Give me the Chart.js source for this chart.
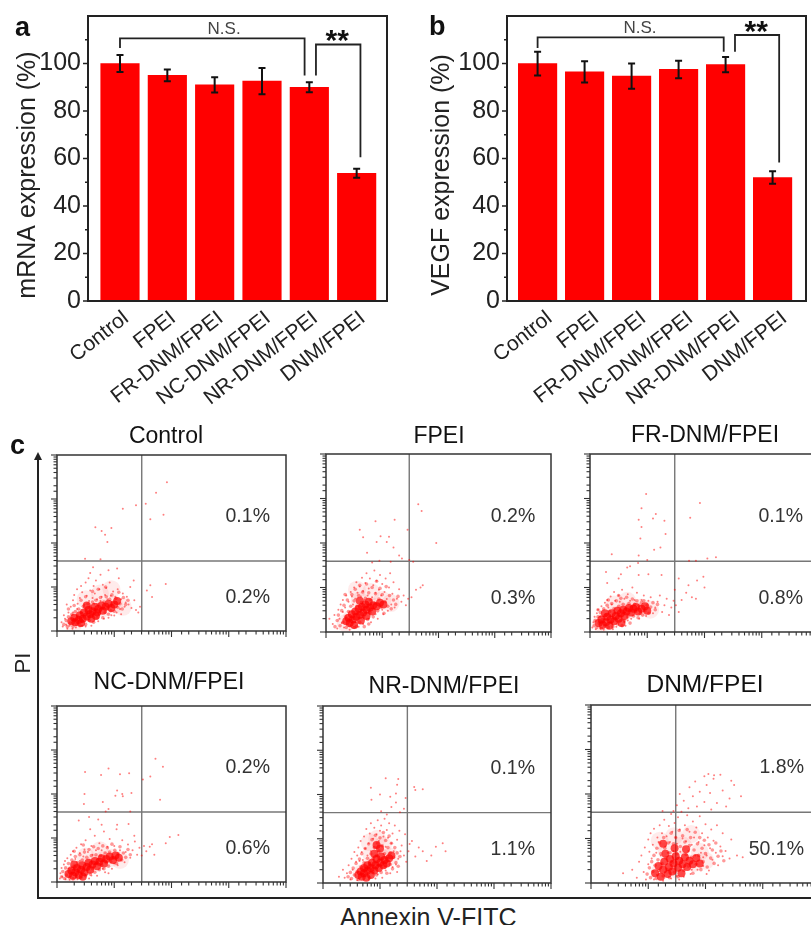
<!DOCTYPE html>
<html>
<head>
<meta charset="utf-8">
<title>Expression and apoptosis</title>
<script src="https://cdn.jsdelivr.net/npm/chart.js@4"></script>
<style>
  html, body { margin: 0; padding: 0; background: #fff; }
  body { width: 811px; height: 925px; overflow: hidden; position: relative; font-family: "Liberation Sans", Arial, sans-serif; filter: blur(0.5px); }
  .box { position: absolute; }
  .txt { position: absolute; color: #222; white-space: nowrap; line-height: 1; }
  .line { position: absolute; background: #222; }
</style>
</head>
<body>
<div class="box" style="left:0;top:0;width:405px;height:420px"><canvas id="barA"></canvas></div>
<div class="box" style="left:410px;top:0;width:401px;height:420px"><canvas id="barB"></canvas></div>
<div class="box" id="panels"></div>

<div class="txt" style="left:15px;top:14px;font-size:27px;font-weight:bold;color:#111">a</div>
<div class="txt" style="left:429px;top:13px;font-size:27px;font-weight:bold;color:#111">b</div>
<div class="txt" style="left:10px;top:432px;font-size:27px;font-weight:bold;color:#111">c</div>
<div class="line" style="left:37px;top:458px;width:2px;height:441px"></div>
<div class="line" style="left:37px;top:897px;width:774px;height:2px"></div>
<div class="box" style="left:34px;top:452px;width:0;height:0;border-left:4px solid transparent;border-right:4px solid transparent;border-bottom:8px solid #222"></div>
<div class="txt" style="left:23px;top:663px;font-size:22px;transform:translate(-50%,-50%) rotate(-90deg)">PI</div>
<div class="txt" style="left:340px;top:905px;font-size:25px">Annexin V-FITC</div>

<script>
const categories = ['Control', 'FPEI', 'FR-DNM/FPEI', 'NC-DNM/FPEI', 'NR-DNM/FPEI', 'DNM/FPEI'];
const mrnaValues = [100, 95, 91, 92.6, 90, 53.8];
const mrnaErrors = [3.6, 2.5, 3.2, 5.5, 2.1, 1.9];
const vegfValues = [100, 96.5, 94.7, 97.5, 99.5, 52];
const vegfErrors = [5, 4.5, 5.3, 3.7, 3.2, 2.6];

// brackets, in axis units
const mrnaNsX = [1, 1, 4.9, 4.9];
const mrnaNsY = [106.5, 110.6, 110.6, 95];
const mrnaStarX = [5.14, 5.14, 6.08, 6.08];
const mrnaStarY = [95, 108, 108, 60.5];
const vegfNsX = [1, 1, 4.96, 4.96];
const vegfNsY = [106.5, 111, 111, 105];
const vegfStarX = [5.2, 5.2, 6.14, 6.14];
const vegfStarY = [105, 112, 112, 58.3];

// gate position and % labels of the flow plots, in decades
const gateX = 1.48;
const gateY = 1.59;
const percentUpper = ['0.1%', '0.2%', '0.1%', '0.2%', '0.1%', '1.8%'];
const percentLower = ['0.2%', '0.3%', '0.8%', '0.6%', '1.1%', '50.1%'];
const panelTitles = ['Control', 'FPEI', 'FR-DNM/FPEI', 'NC-DNM/FPEI', 'NR-DNM/FPEI', 'DNM/FPEI'];

// flow cytometry events, [annexin, PI] in decades. halo/body/core are the dense middle of each cloud
const controlHalo = [[.4,.3],[.6,.42],[.8,.52],[1,.6],[.5,.72],[.75,.85],[.3,.18],[1.15,.55],[.95,.95]];
const controlBody = [[.12,.15],[.16,.24],[.18,.1],[.2,.32],[.23,.18],[.26,.38],[.28,.1],[.3,.25],[.32,.44],[.34,.15],[.36,.34],[.38,.5],[.4,.12],[.42,.42],[.44,.22],[.46,.56],[.48,.32],[.5,.15],[.52,.46],[.54,.62],[.56,.24],[.58,.55],[.6,.36],[.62,.66],[.64,.2],[.66,.48],[.68,.7],[.7,.3],[.72,.6],[.74,.4],[.76,.76],[.78,.5],[.8,.3],[.82,.66],[.84,.42],[.86,.78],[.88,.52],[.9,.38],[.92,.72],[.94,.46],[.96,.82],[.98,.62],[1,.45],[1.03,.74],[1.06,.54],[1.08,.88],[1.1,.62],[1.14,.5],[1.16,.76],[1.2,.6],[1.24,.7],[.2,.5],[.3,.58],[.42,.7],[.5,.78],[.62,.9],[.72,.95],[.85,1]];
const controlCore = [[.25,.22],[.32,.2],[.3,.3],[.38,.25],[.4,.36],[.45,.28],[.47,.42],[.52,.33],[.55,.48],[.58,.38],[.62,.45],[.6,.28],[.66,.55],[.7,.42],[.72,.5],[.78,.58],[.8,.46],[.85,.55],[.9,.62],[.95,.52],[1,.6],[.52,.58],[.42,.18],[.68,.34],[1.05,.68]];
const controlDots = [[.1,.1],[.14,.28],[.08,.2],[.18,.05],[.2,.42],[.12,.36],[.24,.55],[.17,.6],[.28,.7],[.22,.12],[.33,.08],[.36,.62],[.3,.82],[.4,.75],[.35,.95],[.44,.88],[.48,.6],[.42,1.02],[.52,.8],[.5,1.1],[.56,.68],[.58,.92],[.62,.75],[.55,1.2],[.66,.85],[.64,1.02],[.7,.72],[.68,1.15],[.74,.95],[.72,.22],[.6,.12],[.5,.1],[.78,.78],[.8,1.05],[.76,1.28],[.84,.82],[.86,.98],[.9,.3],[.82,.28],[.94,.8],[.92,1.1],[.98,.9],[1,.35],[1.02,.78],[1.06,.95],[1.04,.42],[1.1,.5],[1.12,.72],[1.15,.85],[1.18,.55],[1.2,.65],[1.08,1.2],[1.22,.78],[1.25,.6],[1.28,1],[1.3,.52],[1.35,.7],[1.38,.48],[1.34,1.15],[1.42,.42],[.49,1.64],[.76,1.63],[.88,2.02],[.78,2.27],[.84,2.19],[.67,2.36],[.95,2.34],[1.15,2.78],[1.38,2.86],[1.55,2.89],[1.63,2.54],[1.86,2.64],[1.73,3.14],[1.92,3.38],[1.9,1.07],[1.63,1.04],[1.57,.92],[1.66,.77],[1.45,.55],[.63,1.45],[.9,1.38],[1.05,1.42],[.58,1.32],[.28,.42],[.35,.5],[.16,.14],[.27,.05],[.44,.12],[.65,.62],[.76,.68],[.88,.72],[1.12,.38],[.95,.36]];

const fpeiHalo = [[.45,.3],[.65,.45],[.82,.58],[.6,.7],[.8,.9],[1,.72],[.35,.2],[.55,.95],[1.15,.65]];
const fpeiBody = [[.16,.12],[.2,.26],[.22,.38],[.25,.14],[.28,.48],[.3,.22],[.32,.6],[.35,.34],[.36,.1],[.38,.72],[.4,.46],[.42,.14],[.44,.58],[.46,.84],[.48,.3],[.5,.7],[.52,.96],[.54,.12],[.55,.58],[.58,.82],[.6,.22],[.6,1.05],[.63,.66],[.65,.9],[.67,.34],[.7,.76],[.72,1.08],[.74,.28],[.76,.88],[.78,.44],[.8,.72],[.82,1],[.84,.34],[.86,.64],[.88,.86],[.9,1.14],[.92,.48],[.94,.74],[.96,.98],[.98,.56],[1,.84],[1.03,.42],[1.05,.68],[1.07,1.02],[1.1,.58],[1.13,.82],[1.16,.52],[1.2,.72],[1.24,.62],[1.28,.8],[.34,.84],[.5,.1],[.68,.12],[.76,.18]];
const fpeiCore = [[.36,.24],[.42,.2],[.4,.32],[.48,.28],[.46,.4],[.54,.34],[.52,.46],[.6,.38],[.58,.52],[.66,.44],[.64,.56],[.72,.5],[.7,.62],[.78,.55],[.76,.68],[.84,.6],[.9,.58],[.96,.66],[.6,.7],[.5,.16],[.62,.26],[.72,.36],[.82,.46],[1.02,.62]];
const fpeiDots = [[.06,.3],[.12,.18],[.15,.38],[.2,.08],[.22,.5],[.26,.62],[.24,.3],[.3,.72],[.32,.1],[.36,.82],[.34,.55],[.4,.68],[.44,.9],[.42,.05],[.46,.8],[.5,1],[.48,.62],[.52,.75],[.54,1.12],[.56,.88],[.58,.12],[.6,1.02],[.62,.8],[.64,1.22],[.66,.92],[.68,.72],[.7,1.1],[.72,1.32],[.74,.82],[.76,.98],[.78,1.2],[.8,.22],[.82,.78],[.84,1.05],[.86,1.38],[.88,.88],[.9,1.15],[.92,.3],[.94,.95],[.96,1.28],[.98,.82],[1,1.08],[1.02,.4],[1.04,.9],[1.06,1.2],[1.08,.74],[1.1,.48],[1.12,1],[1.14,1.32],[1.16,.62],[1.18,.86],[1.2,1.12],[1.22,.55],[1.26,.75],[1.3,.96],[1.34,.68],[1.38,.82],[1.42,.6],[1.46,.75],[1.52,.78],[1.6,.95],[1.68,1],[1.72,1.05],[.82,1.56],[.95,1.6],[1.15,1.58],[1.3,1.72],[1.35,1.65],[.73,1.78],[.9,2.02],[.66,2.13],[.6,2.3],[.88,2.49],[.97,2.15],[1.12,2.14],[1.08,2.02],[1.2,1.9],[1.22,2.52],[1.45,2.3],[1.48,1.62],[1.55,1.58],[1.64,2.87],[1.7,2.72],[1.96,2],[.3,.45],[.28,.2],[.52,.22],[.66,.18],[.76,.3],[.88,.4],[1,.5]];

const frHalo = [[.3,.3],[.45,.38],[.6,.45],[.75,.52],[.9,.55],[.2,.2],[.42,.62],[.65,.7],[1.05,.5]];
const frBody = [[.07,.14],[.09,.26],[.12,.1],[.14,.34],[.16,.2],[.18,.44],[.2,.08],[.22,.28],[.24,.52],[.26,.14],[.28,.38],[.3,.6],[.32,.1],[.34,.46],[.36,.22],[.38,.64],[.4,.12],[.42,.52],[.44,.3],[.46,.7],[.48,.18],[.5,.58],[.52,.38],[.54,.76],[.56,.14],[.58,.62],[.6,.26],[.62,.52],[.64,.78],[.66,.34],[.68,.64],[.7,.2],[.72,.56],[.74,.74],[.76,.36],[.78,.62],[.8,.46],[.82,.7],[.84,.32],[.86,.6],[.88,.42],[.9,.66],[.92,.38],[.94,.7],[.96,.48],[1,.6],[1.03,.42],[1.06,.56],[1.1,.66],[1.14,.5],[1.18,.62],[.14,.5],[.32,.72],[.5,.82]];
const frCore = [[.15,.2],[.2,.28],[.22,.16],[.28,.22],[.3,.34],[.34,.14],[.36,.28],[.38,.42],[.42,.24],[.45,.36],[.48,.48],[.5,.3],[.54,.42],[.58,.5],[.6,.36],[.64,.46],[.68,.54],[.72,.44],[.76,.52],[.8,.56],[.84,.46],[.9,.52],[.96,.58],[.55,.2],[.26,.42],[1,.48]];
const frDots = [[.04,.1],[.06,.22],[.08,.34],[.1,.06],[.12,.42],[.14,.5],[.18,.08],[.2,.58],[.24,.05],[.26,.66],[.3,.72],[.32,.55],[.36,.8],[.38,.62],[.42,.9],[.44,.7],[.46,.12],[.5,.82],[.52,.68],[.56,.95],[.6,.75],[.62,.14],[.66,.85],[.7,.7],[.74,1],[.78,.72],[.82,.88],[.86,.3],[.9,.72],[.94,.82],[.98,.36],[1.02,.7],[1.06,.78],[1.1,.42],[1.14,.55],[1.18,.68],[1.22,.82],[1.26,.45],[1.3,.6],[1.34,.75],[1.38,.38],[1.42,.55],[1.46,.7],[1.5,.6],[1.55,.45],[1.48,.95],[1.6,.72],[1.68,.88],[1.78,.78],[1.85,.75],[2,1],[1.87,1.16],[1.98,1.24],[1.55,1.2],[1.72,1.05],[.28,1.35],[.54,1.3],[.3,1.1],[.5,1.2],[.65,1.45],[.7,1.48],[.85,1.28],[1.02,1.3],[1.25,1.28],[.84,1.55],[1,1.62],[.38,1.75],[.85,1.72],[1.12,1.85],[1.23,1.9],[.88,2.1],[.9,2.36],[.85,2.52],[.9,2.78],[.98,3.1],[1.15,2.65],[1.1,2.55],[1.3,2.5],[1.32,2.2],[1.75,2.57],[1.92,2.9],[1.73,1.6],[1.85,1.6],[2.05,1.65],[2.2,1.68],[.6,.22],[.72,.3],[.4,.06],[.18,.35],[.66,.26]];

const ncHalo = [[.35,.25],[.5,.35],[.65,.42],[.8,.5],[.95,.55],[.25,.18],[.5,.58],[.75,.72],[1.1,.5]];
const ncBody = [[.08,.12],[.1,.24],[.13,.08],[.15,.32],[.17,.16],[.2,.42],[.22,.1],[.24,.28],[.26,.5],[.28,.07],[.3,.36],[.32,.58],[.34,.12],[.36,.44],[.38,.24],[.4,.62],[.42,.1],[.44,.5],[.46,.3],[.48,.68],[.5,.14],[.52,.56],[.54,.32],[.56,.74],[.58,.18],[.6,.6],[.62,.3],[.64,.8],[.66,.22],[.68,.62],[.7,.44],[.72,.76],[.74,.28],[.76,.6],[.78,.38],[.8,.82],[.82,.3],[.84,.66],[.86,.44],[.88,.78],[.9,.36],[.92,.68],[.94,.46],[.96,.86],[.98,.54],[1.01,.72],[1.04,.42],[1.07,.64],[1.1,.8],[1.13,.5],[1.16,.66],[1.2,.56],[1.24,.74],[1.28,.62],[.3,.7],[.46,.84]];
const ncCore = [[.2,.18],[.25,.26],[.28,.14],[.32,.22],[.35,.32],[.38,.16],[.42,.28],[.44,.38],[.48,.22],[.52,.34],[.55,.44],[.58,.28],[.62,.4],[.66,.48],[.7,.36],[.74,.46],[.78,.54],[.82,.42],[.86,.52],[.92,.58],[.98,.5],[1.02,.6],[.45,.12],[.3,.4],[1.08,.55]];
const ncDots = [[.05,.08],[.06,.2],[.08,.32],[.09,.12],[.12,.4],[.14,.48],[.15,.06],[.18,.54],[.22,.05],[.24,.62],[.28,.7],[.32,.52],[.34,.78],[.36,.06],[.4,.66],[.42,.86],[.46,.58],[.48,.74],[.5,.95],[.54,.68],[.56,.08],[.6,.82],[.62,.62],[.66,1.05],[.68,.72],[.7,.14],[.74,.88],[.78,.72],[.82,1.15],[.84,.22],[.88,.8],[.92,.98],[.96,.3],[1,.82],[1.04,1.2],[1.06,.38],[1.1,.72],[1.14,.95],[1.18,.45],[1.2,.68],[1.24,.85],[1.28,.55],[1.32,.72],[1.36,.92],[1.4,.62],[1.44,.78],[1.48,.6],[1.52,.82],[1.56,.7],[1.62,.8],[1.66,.86],[1.7,.62],[1.9,.88],[1.97,1.02],[2.12,1.07],[.38,1.4],[.56,1.48],[.58,1.2],[.72,1.42],[.85,1.6],[.9,1.66],[.78,1.3],[1.05,1.3],[1.25,1.32],[1.28,1.6],[1.35,1.05],[.47,1.77],[.48,2],[.8,1.82],[1.02,1.96],[1.05,2.08],[1.14,2],[1.15,1.95],[1.3,2.02],[1.1,2.45],[.49,2.5],[.77,2.43],[.9,2.58],[1.26,2.47],[1.5,2.33],[1.63,2.4],[1.85,2.62],[1.72,2.8],[1.8,1.87],[.2,.3],[.4,.48],[.6,.15],[.8,.3],[1,.42],[.9,.2]];

const nrHalo = [[.8,.3],[.92,.45],[1.02,.58],[.85,.65],[1.05,.85],[.95,1],[.68,.22],[1.18,.6],[.82,.92]];
const nrBody = [[.44,.14],[.48,.24],[.5,.1],[.53,.34],[.55,.18],[.58,.44],[.6,.26],[.62,.08],[.64,.54],[.66,.36],[.68,.66],[.7,.16],[.72,.46],[.74,.78],[.76,.3],[.78,.56],[.8,.88],[.82,.12],[.82,.44],[.84,.66],[.86,.98],[.88,.26],[.88,.56],[.9,.8],[.92,1.08],[.94,.18],[.94,.62],[.96,.9],[.98,.4],[.98,.72],[1,1.02],[1.02,.24],[1.02,.54],[1.04,.84],[1.06,1.14],[1.08,.36],[1.08,.66],[1.1,.96],[1.12,.22],[1.12,.56],[1.14,.8],[1.16,1.06],[1.18,.42],[1.18,.68],[1.2,.9],[1.22,.32],[1.24,.58],[1.26,.8],[1.28,.46],[1.3,.68],[1.32,.38],[1.35,.6]];
const nrCore = [[.62,.18],[.68,.14],[.66,.26],[.72,.22],[.72,.34],[.78,.28],[.78,.4],[.84,.18],[.84,.34],[.86,.46],[.9,.28],[.92,.4],[.94,.54],[.98,.34],[1,.46],[1.02,.6],[1.06,.4],[1.08,.52],[1.12,.44],[1.16,.56],[.9,.66],[1,.78],[.94,.86],[.76,.12],[1.2,.62]];
const nrDots = [[.28,.14],[.35,.3],[.38,.12],[.42,.22],[.45,.4],[.48,.08],[.5,.55],[.52,.3],[.55,.7],[.58,.48],[.6,.62],[.6,.06],[.62,.8],[.64,.5],[.66,.95],[.68,.7],[.7,.52],[.72,1.05],[.74,.78],[.76,1.22],[.78,.62],[.8,.9],[.82,1.12],[.84,1.35],[.84,.72],[.88,1],[.9,1.25],[.92,.1],[.94,1.1],[.96,1.42],[.98,.95],[1,1.18],[1.02,1.3],[1.04,.12],[1.06,1.05],[1.08,1.45],[1.1,.82],[1.12,1.2],[1.14,1.02],[1.16,1.35],[1.18,.22],[1.2,.9],[1.22,1.12],[1.24,.72],[1.26,1.3],[1.28,.42],[1.3,.98],[1.32,.55],[1.34,1.18],[1.36,.72],[1.38,.85],[1.42,.62],[1.44,1.1],[1.46,.48],[1.5,.72],[1.52,.88],[1.56,.95],[1.62,.6],[1.68,.8],[1.75,.72],[1.82,.5],[1.9,.62],[1.98,.82],[2.1,.9],[2.15,.72],[1.02,1.62],[1.12,1.55],[1.2,1.72],[1.28,1.82],[1.18,1.95],[1.35,1.6],[1,2],[.85,1.88],[.84,2.15],[1.1,2.37],[1.3,2.22],[1.32,2.35],[1.28,2.02],[1.42,1.68],[1.45,1.92],[1.6,2.17],[1.62,2.1],[1.75,2.12],[.7,.36],[.8,.08],[.96,.2],[1.1,.28],[1.22,.36],[1.3,.25]];

const dnmHalo = [[1.35,.4],[1.62,.5],[1.2,.25],[1.5,.3],[1.8,.45],[1.32,.72],[1.6,.85],[1.9,.7],[1.45,1.05],[1.75,1.1],[1.2,.95],[2,.5]];
const dnmBody = [[.98,.2],[1.02,.34],[1.04,.12],[1.06,.48],[1.08,.26],[1.1,.62],[1.12,.4],[1.14,.1],[1.15,.78],[1.17,.52],[1.19,.28],[1.2,.9],[1.22,.66],[1.24,.44],[1.26,.16],[1.27,1.02],[1.29,.78],[1.31,.56],[1.33,.3],[1.35,.9],[1.37,.12],[1.38,.68],[1.4,1.12],[1.42,.46],[1.44,.88],[1.46,.24],[1.48,1.02],[1.5,.66],[1.52,.14],[1.54,1.18],[1.56,.82],[1.58,.52],[1.6,1.06],[1.62,.28],[1.64,.92],[1.66,.64],[1.68,1.2],[1.7,.38],[1.72,.84],[1.74,1.02],[1.76,.58],[1.78,.22],[1.8,.74],[1.82,1.14],[1.84,.42],[1.86,.88],[1.88,.62],[1.9,1.02],[1.92,.3],[1.94,.78],[1.96,.48],[1.98,.96],[2,.66],[2.03,.36],[2.06,.86],[2.09,.56],[2.12,.74],[2.15,.44],[2.18,.9],[2.22,.6],[2.27,.72],[2.32,.5]];
const dnmCore = [[1.12,.22],[1.18,.38],[1.22,.14],[1.26,.3],[1.28,.48],[1.34,.2],[1.36,.36],[1.38,.54],[1.42,.26],[1.44,.44],[1.48,.6],[1.52,.34],[1.54,.5],[1.58,.22],[1.6,.42],[1.64,.58],[1.68,.36],[1.72,.5],[1.78,.42],[1.84,.56],[1.3,.66],[1.46,.78],[1.66,.76],[1.9,.44],[1.26,.88]];
const dnmDots = [[.56,.22],[.72,.3],[.8,.12],[.84,.48],[.88,.62],[.92,.25],[.94,.8],[.96,.08],[1,.98],[1,.42],[1.02,.7],[1.04,1.12],[1.06,.55],[1.08,.86],[1.1,1.22],[1.1,.08],[1.14,.68],[1.16,1.02],[1.18,.92],[1.2,1.3],[1.22,.62],[1.24,1.12],[1.26,.05],[1.28,1.42],[1.3,.82],[1.32,1.05],[1.34,.68],[1.36,1.28],[1.38,.92],[1.4,1.55],[1.4,.1],[1.42,1.15],[1.44,.72],[1.46,1.35],[1.48,1.02],[1.5,.88],[1.52,1.48],[1.54,.08],[1.55,1.2],[1.56,.7],[1.58,1.6],[1.6,1],[1.62,.14],[1.64,1.3],[1.66,.94],[1.68,1.52],[1.7,.72],[1.72,1.15],[1.74,.2],[1.76,.86],[1.78,1.38],[1.8,1.02],[1.82,.62],[1.84,1.25],[1.86,.3],[1.88,.92],[1.9,1.5],[1.92,.68],[1.94,1.12],[1.96,.38],[1.98,.85],[2,1.32],[2.02,.62],[2.04,1.02],[2.06,.28],[2.08,.78],[2.1,1.2],[2.12,.52],[2.14,.95],[2.18,.68],[2.2,1.3],[2.22,.4],[2.26,.82],[2.3,.6],[2.3,1.12],[2.35,.72],[2.42,.55],[2.45,.98],[2.55,.62],[2.65,.58],[1.5,1.75],[1.62,1.85],[1.55,2],[1.7,1.68],[1.78,1.95],[1.72,2.15],[1.85,1.72],[1.9,2.05],[1.82,2.28],[1.98,1.82],[2.02,2.2],[2.08,2.02],[2.1,1.65],[2.14,2.34],[2.2,1.8],[2.26,2.43],[2.3,2.08],[2.36,1.72],[2.42,1.9],[2.5,2.2],[2.45,2.3],[2.62,1.95],[1.98,2.4],[2.05,2.45],[2.15,2.42],[1.44,1.62],[1.25,1.62],[1.15,.18],[1.5,.16],[1.76,.3],[1.96,.58],[2.02,.2]];

const panelBoxes = [
  { left: 57, top: 455, right: 286, bottom: 631, titleX: 166, titleY: 437, titleSize: 23, halo: controlHalo, body: controlBody, core: controlCore, dots: controlDots },
  { left: 326, top: 454, right: 551, bottom: 632, titleX: 439, titleY: 437, titleSize: 23, halo: fpeiHalo, body: fpeiBody, core: fpeiCore, dots: fpeiDots },
  { left: 590, top: 454, right: 819, bottom: 632, titleX: 705, titleY: 436, titleSize: 23, halo: frHalo, body: frBody, core: frCore, dots: frDots },
  { left: 57, top: 706, right: 286, bottom: 882, titleX: 169, titleY: 683, titleSize: 23, halo: ncHalo, body: ncBody, core: ncCore, dots: ncDots },
  { left: 323, top: 706, right: 551, bottom: 883, titleX: 444, titleY: 687, titleSize: 23, halo: nrHalo, body: nrBody, core: nrCore, dots: nrDots },
  { left: 591, top: 705, right: 820, bottom: 883, titleX: 705, titleY: 685, titleSize: 24.5, halo: dnmHalo, body: dnmBody, core: dnmCore, dots: dnmDots }
];

const FONT = '"Liberation Sans", Arial, sans-serif';

function bracketSet(xs, ys) {
  return {
    type: 'line',
    data: xs.map((x, i) => ({ x: x, y: ys[i] })),
    borderColor: '#222',
    borderWidth: 1.8,
    pointRadius: 0,
    tension: 0,
    fill: false
  };
}

function createBarChart(canvasId, cfg) {
  const extras = {
    id: 'barExtras',
    afterDatasetsDraw(chart) {
      const c = chart.ctx;
      const x = chart.scales.x;
      const y = chart.scales.y;
      const area = chart.chartArea;
      c.save();
      c.strokeStyle = '#111';
      c.lineWidth = 2;
      cfg.values.forEach((v, i) => {
        const px = x.getPixelForValue(i + 1);
        const hi = y.getPixelForValue(v + cfg.errors[i]);
        const lo = y.getPixelForValue(v - cfg.errors[i]);
        c.beginPath();
        c.moveTo(px, hi); c.lineTo(px, lo);
        c.moveTo(px - 3.5, hi); c.lineTo(px + 3.5, hi);
        c.moveTo(px - 3.5, lo); c.lineTo(px + 3.5, lo);
        c.stroke();
      });
      // frame and y ticks, 20s are longer than the 10s
      c.strokeStyle = '#222';
      c.strokeRect(area.left, area.top, area.right - area.left, area.bottom - area.top);
      c.lineWidth = 1.5;
      y.ticks.forEach(t => {
        if (t.value >= 120) return;
        const py = y.getPixelForValue(t.value);
        c.beginPath();
        c.moveTo(area.left, py);
        c.lineTo(area.left - (t.value % 20 === 0 ? 5 : 3), py);
        c.stroke();
      });
      c.fillStyle = '#444';
      c.textAlign = 'center';
      c.textBaseline = 'middle';
      c.font = '17px ' + FONT;
      c.fillText('N.S.', x.getPixelForValue(cfg.nsLabel[0]), y.getPixelForValue(cfg.nsLabel[1]));
      c.fillStyle = '#111';
      c.font = 'bold 30px ' + FONT;
      c.textBaseline = 'alphabetic';
      c.fillText('**', x.getPixelForValue(cfg.starLabel[0]), y.getPixelForValue(cfg.starLabel[1]));
      // axis title sits lower than the middle of the axis, so it's drawn here
      c.save();
      c.translate(cfg.titleX, 175);
      c.rotate(-Math.PI / 2);
      c.fillStyle = '#222';
      c.font = '25px ' + FONT;
      c.textBaseline = 'middle';
      c.fillText(cfg.title, 0, 0);
      c.restore();
      c.restore();
    }
  };

  return new Chart(document.getElementById(canvasId), {
    type: 'bar',
    data: {
      datasets: [
        { data: cfg.values.map((v, i) => ({ x: i + 1, y: v })), backgroundColor: '#ff0000', barThickness: 38.5 },
        bracketSet(cfg.nsX, cfg.nsY),
        bracketSet(cfg.starX, cfg.starY)
      ]
    },
    plugins: [extras],
    options: {
      responsive: true,
      maintainAspectRatio: false,
      animation: false,
      layout: { autoPadding: false, padding: { top: 16, right: cfg.padRight, bottom: 0, left: 0 } },
      plugins: { legend: { display: false }, tooltip: { enabled: false } },
      scales: {
        x: {
          type: 'linear',
          offset: false,
          min: cfg.xMin,
          max: cfg.xMax,
          grid: { display: false, drawTicks: false },
          border: { display: false },
          afterBuildTicks(s) { s.ticks = categories.map((_, i) => ({ value: i + 1 })); },
          afterFit(s) { s.height = 119; s.paddingLeft = 0; s.paddingRight = 0; },
          ticks: {
            autoSkip: false,
            minRotation: 38,
            maxRotation: 38,
            padding: 5,
            labelOffset: cfg.labelShift,
            color: '#222',
            font: { family: FONT, size: 21 },
            callback: v => categories[v - 1]
          }
        },
        y: {
          min: 0,
          max: 120,
          grid: { display: false, drawTicks: false },
          border: { display: false },
          afterFit(s) { s.width = cfg.axisLeft; s.paddingTop = 0; s.paddingBottom = 0; },
          ticks: {
            stepSize: 10,
            autoSkip: false,
            padding: 7,
            color: '#222',
            font: { family: FONT, size: 25 },
            callback: v => (v % 20 === 0 && v <= 100 ? v : '')
          }
        }
      }
    }
  });
}

function createPanel(index) {
  const p = panelBoxes[index];
  const padL = 10, padT = 34, padR = 4, padB = 10;
  const wrap = document.createElement('div');
  wrap.className = 'box';
  wrap.style.cssText = 'left:' + (p.left - padL) + 'px;top:' + (p.top - padT) + 'px;width:' + (p.right - p.left + padL + padR) + 'px;height:' + (p.bottom - p.top + padT + padB) + 'px';
  const canvas = document.createElement('canvas');
  wrap.appendChild(canvas);
  document.getElementById('panels').appendChild(wrap);

  const toPoints = list => list.map(d => ({ x: Math.pow(10, d[0]), y: Math.pow(10, d[1]) }));
  const cloud = (list, r, color) => ({ type: 'scatter', data: toPoints(list), pointRadius: r, pointBorderWidth: 0, pointBackgroundColor: color });
  const gate = pts => ({ type: 'line', data: pts, borderColor: '#777', borderWidth: 1.4, pointRadius: 0, fill: false });
  const decade = v => Math.abs(Math.log10(v) - Math.round(Math.log10(v))) < 1e-6;

  const frame = {
    id: 'panelFrame',
    afterDatasetsDraw(chart) {
      const c = chart.ctx;
      const a = chart.chartArea;
      const x = chart.scales.x;
      const y = chart.scales.y;
      c.save();
      c.strokeStyle = '#333';
      c.lineWidth = 1.5;
      c.strokeRect(a.left, a.top, a.right - a.left, a.bottom - a.top);
      c.lineWidth = 1.1;
      x.ticks.forEach(t => {
        const px = x.getPixelForValue(t.value);
        c.beginPath(); c.moveTo(px, a.bottom); c.lineTo(px, a.bottom + (decade(t.value) ? 6 : 3.5)); c.stroke();
      });
      y.ticks.forEach(t => {
        const py = y.getPixelForValue(t.value);
        c.beginPath(); c.moveTo(a.left, py); c.lineTo(a.left - (decade(t.value) ? 6 : 3.5), py); c.stroke();
      });
      c.fillStyle = '#111';
      c.textAlign = 'center';
      c.textBaseline = 'middle';
      c.font = p.titleSize + 'px ' + FONT;
      c.fillText(panelTitles[index], p.titleX - p.left + padL, p.titleY - p.top + padT);
      c.fillStyle = '#333';
      c.textAlign = 'right';
      c.font = '19.5px ' + FONT;
      const right = x.getPixelForValue(Math.pow(10, 3.72));
      c.fillText(percentUpper[index], right, y.getPixelForValue(Math.pow(10, 2.59)));
      c.fillText(percentLower[index], right, y.getPixelForValue(Math.pow(10, 0.75)));
      c.restore();
    }
  };

  return new Chart(canvas, {
    type: 'scatter',
    data: {
      datasets: [
        cloud(p.halo, 9, 'rgba(255,0,0,0.08)'),
        cloud(p.dots, 1, 'rgba(255,0,0,0.5)'),
        cloud(p.body, 1.8, 'rgba(255,0,0,0.4)'),
        cloud(p.core, 4, 'rgba(255,0,0,0.7)'),
        gate([{ x: Math.pow(10, gateX), y: 1 }, { x: Math.pow(10, gateX), y: 10000 }]),
        gate([{ x: 1, y: Math.pow(10, gateY) }, { x: 10000, y: Math.pow(10, gateY) }])
      ]
    },
    plugins: [frame],
    options: {
      responsive: true,
      maintainAspectRatio: false,
      animation: false,
      layout: { autoPadding: false, padding: { left: padL, top: padT, right: padR, bottom: padB } },
      plugins: { legend: { display: false }, tooltip: { enabled: false } },
      scales: {
        x: { type: 'logarithmic', min: 1, max: 10000, grid: { display: false, drawTicks: false }, border: { display: false }, ticks: { display: false, autoSkip: false } },
        y: { type: 'logarithmic', min: 1, max: 10000, grid: { display: false, drawTicks: false }, border: { display: false }, ticks: { display: false, autoSkip: false } }
      }
    }
  });
}

createBarChart('barA', {
  values: mrnaValues, errors: mrnaErrors, nsX: mrnaNsX, nsY: mrnaNsY, starX: mrnaStarX, starY: mrnaStarY,
  nsLabel: [3.2, 114.3], starLabel: [5.59, 105.8], title: 'mRNA expression (%)', titleX: 28,
  xMin: 0.324, xMax: 6.641, axisLeft: 88, padRight: 18, labelShift: 6
});
createBarChart('barB', {
  values: vegfValues, errors: vegfErrors, nsX: vegfNsX, nsY: vegfNsY, starX: vegfStarX, starY: vegfStarY,
  nsLabel: [3.18, 115], starLabel: [5.65, 109.5], title: 'VEGF expression (%)', titleX: 32,
  xMin: 0.349, xMax: 6.711, axisLeft: 97, padRight: 5, labelShift: 12
});
panelBoxes.forEach((_, i) => createPanel(i));
</script>
</body>
</html>
